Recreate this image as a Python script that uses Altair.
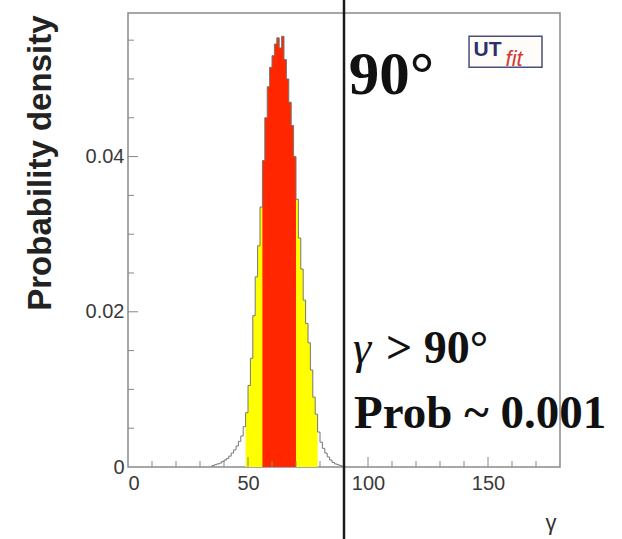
import altair as alt
import pandas as pd

# Posterior density of gamma, one-degree bins (lower edge, density)
bin_lo = list(range(35, 90))
density = [
    0.0002, 0.0003, 0.0004, 0.0005, 0.0007, 0.0009, 0.0011, 0.0014, 0.0018, 0.0022,
    0.0027, 0.0033, 0.0040, 0.0052, 0.0070, 0.0105, 0.0140, 0.0195, 0.0245, 0.0285,
    0.0335, 0.0395, 0.0450, 0.0490, 0.0515, 0.0530, 0.0545, 0.0553, 0.0540, 0.0555,
    0.0525, 0.0500, 0.0470, 0.0440, 0.0400, 0.0345, 0.0295, 0.0255, 0.0215, 0.0185,
    0.0160, 0.0125, 0.0090, 0.0068, 0.0045, 0.0032, 0.0024, 0.0018, 0.0013, 0.0009,
    0.0006, 0.0004, 0.0003, 0.0002, 0.0001,
]
BIN_W = 1

# Probability intervals: 68% (red) and 95% (yellow)
red_range = (56, 70)
yellow_range = (49, 79)

# Axis ticks
x_major = [0, 50, 100, 150]
x_minor = [v for v in range(10, 180, 10) if v % 50 != 0]
y_major = [0.0, 0.02, 0.04]
y_minor = [0.005, 0.01, 0.015, 0.025, 0.03, 0.035, 0.045, 0.05, 0.055]

cut_value = 90

W, H = 432, 454
X_DOM = [0, 180]
Y_DOM = [0, 0.0585]

hist = pd.DataFrame({"lo": bin_lo, "d": density})


def step_frame(lo, hi):
    sub = hist[(hist.lo >= lo) & (hist.lo < hi)]
    xs = list(sub.lo) + [hi]
    ys = list(sub.d) + [sub.d.iloc[-1]]
    return pd.DataFrame({"g": xs, "d": ys})


x_scale = alt.Scale(domain=X_DOM, nice=False, zero=False)
y_scale = alt.Scale(domain=Y_DOM, nice=False, zero=True)

x_enc = alt.X(
    "g:Q", scale=x_scale,
    axis=alt.Axis(
        values=x_major, format="d", title="γ", titleAnchor="end", titleAlign="right",
        titleBaseline="alphabetic",
        titleFontSize=22, titleFontWeight="normal", titleFont="Liberation Sans",
        titleColor="#333", titleX=W - 4, titleY=62,
        labelFontSize=20, labelFont="Liberation Sans", labelColor="#3a3a3a",
        labelPadding=6, ticks=False, domain=False, grid=False,
    ),
)
y_enc = alt.Y(
    "d:Q", scale=y_scale,
    axis=alt.Axis(
        values=y_major, labelExpr="datum.value == 0 ? '0' : format(datum.value, '.2f')",
        title="Probability density", titleAngle=270, titleAlign="right",
        titleBaseline="middle", titleX=-88, titleY=2, titleFontSize=33,
        titleFontWeight="bold", titleFont="Liberation Sans", titleColor="#222",
        labelFontSize=20, labelFont="Liberation Sans", labelColor="#3a3a3a",
        labelPadding=4, ticks=False, domain=False, grid=False,
    ),
)

# Full histogram outline (step)
outline_df = step_frame(bin_lo[0], bin_lo[-1] + BIN_W)
outline_df = pd.concat(
    [pd.DataFrame({"g": [bin_lo[0]], "d": [0.0]}), outline_df,
     pd.DataFrame({"g": [bin_lo[-1] + BIN_W], "d": [0.0]})],
    ignore_index=True,
)

yellow_area = alt.Chart(step_frame(*yellow_range)).mark_area(
    interpolate="step-after", color="#ffff00"
).encode(x=x_enc, y=y_enc)

red_area = alt.Chart(step_frame(*red_range)).mark_area(
    interpolate="step-after", color="#ff2600"
).encode(x="g:Q", y="d:Q")

outline = alt.Chart(outline_df).mark_line(
    interpolate="step-after", color="#777", strokeWidth=1
).encode(x="g:Q", y="d:Q")

# Inward-pointing ticks
def xticks(vals, length):
    return alt.Chart(pd.DataFrame({"g": vals})).mark_rule(color="#888", strokeWidth=1).encode(
        x="g:Q", y=alt.value(H), y2=alt.value(H - length)
    )


def yticks(vals, length):
    return alt.Chart(pd.DataFrame({"d": vals})).mark_rule(color="#888", strokeWidth=1).encode(
        y="d:Q", x=alt.value(0), x2=alt.value(length)
    )


ticks = [xticks(x_minor, 6), xticks(x_major[1:], 10), yticks(y_minor, 6), yticks(y_major[1:], 10)]

cut_line = alt.Chart(pd.DataFrame({"g": [cut_value]})).mark_rule(
    color="#1a1a1a", strokeWidth=2.5
).encode(x="g:Q", y=alt.value(-13), y2=alt.value(H + 72))


def label(text, gx, dy, size, weight="bold", style="normal", color="#111",
          font="Liberation Serif"):
    return alt.Chart(pd.DataFrame({"g": [gx], "d": [dy], "t": [text]})).mark_text(
        align="left", baseline="alphabetic", fontSize=size, fontWeight=weight,
        fontStyle=style, font=font, color=color,
    ).encode(x="g:Q", y="d:Q", text="t:N")


texts = [
    label("90°", 92.0, 0.0480, 61),
    label("γ", 93.8, 0.0134, 46, weight="normal", style="italic"),
    label("> 90°", 107.5, 0.0134, 46),
    label("Prob ~ 0.001", 94.2, 0.00503, 47),
]

# Group logo
logo_box = alt.Chart(pd.DataFrame({"g": [142.1], "g2": [172.5], "d": [0.0555], "d2": [0.0515]})).mark_rect(
    fill="#fdfcf8", stroke="#4a4f7a", strokeWidth=1.5
).encode(x="g:Q", x2="g2:Q", y="d:Q", y2="d2:Q")
logo_ut = label("UT", 144.0, 0.0529, 21, color="#2b2f6e", font="Liberation Sans")
logo_fit = label("fit", 157.3, 0.0517, 22, weight="normal", style="italic", color="#d23a3a",
                 font="Liberation Sans")

chart = alt.layer(
    yellow_area, red_area, outline, *ticks, cut_line, *texts, logo_box, logo_ut, logo_fit
).properties(
    width=W, height=H,
    autosize=alt.AutoSizeParams(type="none"),
    padding={"left": 128, "top": 13, "right": 62, "bottom": 72},
    background="white",
).configure_view(stroke="#8a8a8a", strokeWidth=1.5)

chart.save("out.html", embed_options={"renderer": "svg", "actions": False})
